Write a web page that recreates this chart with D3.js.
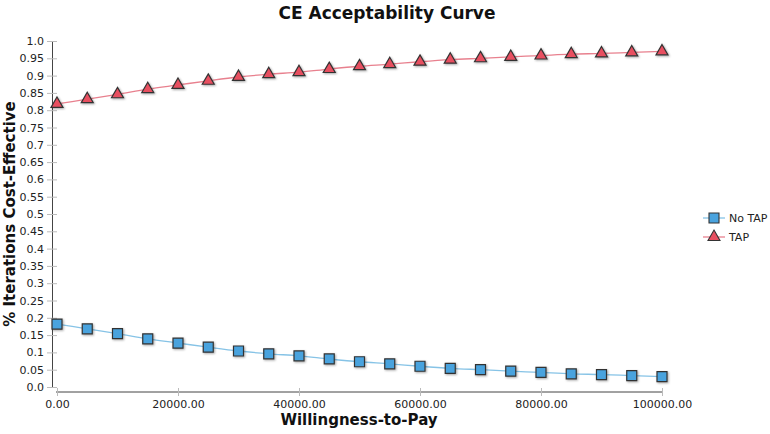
<!DOCTYPE html>
<html><head><meta charset="utf-8">
<script src="https://cdn.jsdelivr.net/npm/d3@7"></script>
<style>body{margin:0;background:#fff;} svg{display:block;font-family:"DejaVu Sans",Verdana,sans-serif;}</style>
</head><body>
<svg id="chart" width="770" height="434"></svg>
<script>
const wtp = [0,5000,10000,15000,20000,25000,30000,35000,40000,45000,50000,55000,60000,65000,70000,75000,80000,85000,90000,95000,100000];
const noTap = [0.182,0.168,0.154,0.139,0.127,0.115,0.104,0.096,0.090,0.081,0.073,0.067,0.060,0.054,0.050,0.046,0.042,0.038,0.036,0.033,0.030];
const tap = [0.818,0.832,0.846,0.861,0.873,0.885,0.896,0.904,0.910,0.919,0.927,0.933,0.940,0.946,0.950,0.954,0.958,0.962,0.964,0.967,0.970];
const yTicks = [0,0.05,0.1,0.15,0.2,0.25,0.3,0.35,0.4,0.45,0.5,0.55,0.6,0.65,0.7,0.75,0.8,0.85,0.9,0.95,1.0];
const xTicks = [0,20000,40000,60000,80000,100000];
const seriesNames = ["No TAP","TAP"];

const svg = d3.select("#chart");
const defs = svg.append("defs");
const f = defs.append("filter").attr("id","sh").attr("x","-50%").attr("y","-50%").attr("width","200%").attr("height","200%");
f.append("feDropShadow").attr("dx",1).attr("dy",1).attr("stdDeviation",0.8).attr("flood-color","#000").attr("flood-opacity",0.35);

const x = d3.scaleLinear().domain([0,100000]).range([57,662]);
const y = d3.scaleLinear().domain([0,1]).range([387,41]);

// title
svg.append("text").attr("x",387).attr("y",19).attr("text-anchor","middle")
  .attr("font-size",17).attr("font-weight","bold").attr("fill","#111").text("CE Acceptability Curve");

// y axis
const yAxis = svg.append("g").attr("transform","translate(52,0)")
  .call(d3.axisLeft(y).tickValues(yTicks).tickFormat(d => (d===0||d===1)? d.toFixed(1) : String(+d.toFixed(2))).tickSize(0).tickPadding(8));
yAxis.select(".domain").attr("stroke","#444");
yAxis.selectAll(".tick line").attr("x1",-5).attr("x2",5).attr("stroke","#bbb");
yAxis.selectAll(".tick text").attr("font-size",11).attr("fill","#222").attr("font-family","DejaVu Sans, sans-serif");

// x axis
const xAxis = svg.append("g").attr("transform","translate(0,392)")
  .call(d3.axisBottom(x).tickValues(xTicks).tickFormat(d => d.toFixed(2)).tickSize(0).tickPadding(8));
xAxis.select(".domain").attr("stroke","#444").attr("d","M56,0H662");
xAxis.selectAll(".tick line").attr("y1",-4).attr("y2",4).attr("stroke","#bbb");
xAxis.selectAll(".tick text").attr("font-size",11).attr("fill","#222").attr("font-family","DejaVu Sans, sans-serif");

// axis labels
svg.append("text").attr("x",359).attr("y",425).attr("text-anchor","middle")
  .attr("font-size",15).attr("font-weight","bold").attr("fill","#111").text("Willingness-to-Pay");
svg.append("text").attr("transform","translate(15,214) rotate(-90)").attr("text-anchor","middle")
  .attr("font-size",15).attr("font-weight","bold").attr("fill","#111").text("% Iterations Cost-Effective");

const line = d3.line().x(d=>x(d[0])).y(d=>y(d[1])).curve(d3.curveMonotoneX);
const dataNo = wtp.map((w,i)=>[w,noTap[i]]);
const dataTap = wtp.map((w,i)=>[w,tap[i]]);

const colors = {no:{line:"#86c3e6", fill:"#4aa3de"}, tap:{line:"#e8808e", fill:"#e84f60"}};
const sq = d3.symbol().type(d3.symbolSquare).size(100);
const tri = d3.symbol().type(d3.symbolTriangle).size(62);

svg.append("path").datum(dataNo).attr("d",line).attr("fill","none").attr("stroke",colors.no.line).attr("stroke-width",1.3);
svg.append("path").datum(dataTap).attr("d",line).attr("fill","none").attr("stroke",colors.tap.line).attr("stroke-width",1.3);

svg.append("g").selectAll("path").data(dataNo).join("path")
  .attr("transform",d=>`translate(${x(d[0])},${y(d[1])})`).attr("d",sq)
  .attr("fill",colors.no.fill).attr("stroke","#333").attr("stroke-width",1.2).attr("filter","url(#sh)");
svg.append("g").selectAll("path").data(dataTap).join("path")
  .attr("transform",d=>`translate(${x(d[0])},${y(d[1])})`).attr("d",tri)
  .attr("fill",colors.tap.fill).attr("stroke","#333").attr("stroke-width",1.2).attr("filter","url(#sh)");

// legend
const leg = svg.append("g");
const items = [{name:seriesNames[0], c:colors.no, sym:sq, y:218},{name:seriesNames[1], c:colors.tap, sym:tri, y:237}];
items.forEach(it=>{
  leg.append("line").attr("x1",703).attr("x2",725).attr("y1",it.y).attr("y2",it.y).attr("stroke",it.c.line).attr("stroke-width",1.3);
  leg.append("path").attr("transform",`translate(714,${it.y})`).attr("d",it.sym).attr("fill",it.c.fill).attr("stroke","#333").attr("stroke-width",1.1);
  leg.append("text").attr("x",729).attr("y",it.y+4).attr("font-size",11).attr("fill","#222").text(it.name);
});
</script>
</body></html>
